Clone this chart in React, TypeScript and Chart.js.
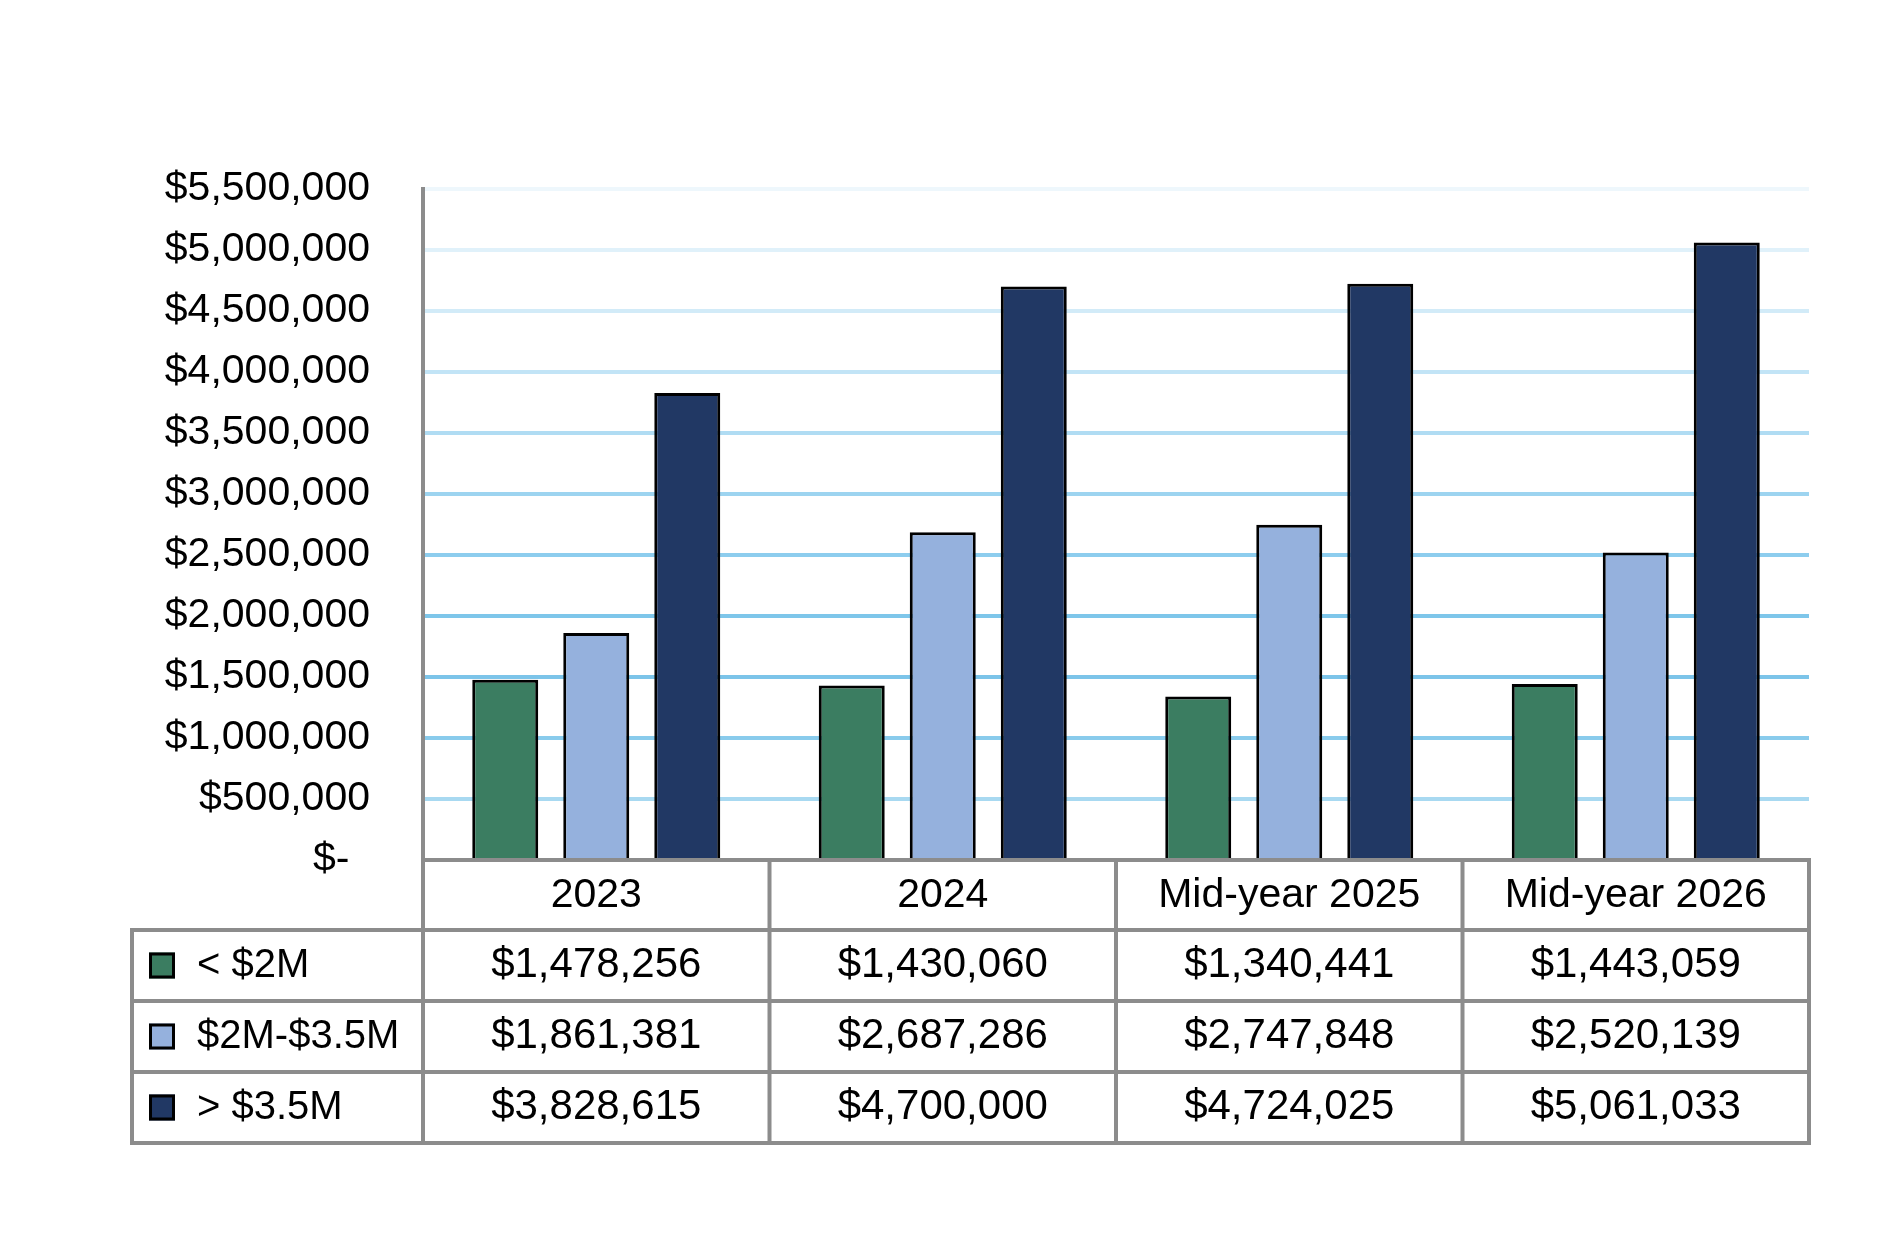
import { useEffect, useRef } from "react"
import { Chart, registerables } from "chart.js"

Chart.register(...registerables)

// Chart data
const categories = ["2023", "2024", "Mid-year 2025", "Mid-year 2026"]
const seriesNames = ["< $2M", "$2M-$3.5M", "> $3.5M"]
const underTwoM = [1478256, 1430060, 1340441, 1443059]
const twoToThreeHalfM = [1861381, 2687286, 2747848, 2520139]
const overThreeHalfM = [3828615, 4700000, 4724025, 5061033]
const yTicks = [0, 500000, 1000000, 1500000, 2000000, 2500000, 3000000, 3500000, 4000000, 4500000, 5000000, 5500000]

const seriesColors = ["#3B7D61", "#95B1DD", "#213864"]
// gridline shades, bottom (0) to top (5.5M)
const gridColors = [
  "#7cc4e9", "#a8d9f1", "#89cbec", "#7cc4e9", "#7ec6ea", "#8dcdee",
  "#9dd4f0", "#b0dcf3", "#c2e4f6", "#d2ebf8", "#e0f1fa", "#eef7fc",
]

const FONT = '"Liberation Sans", Arial, sans-serif'
const money = (v: number) => "$" + v.toLocaleString("en-US")

const dataTable = {
  id: "dataTable",
  afterDraw(chart: Chart) {
    const { ctx, chartArea } = chart
    const xScale = chart.scales.x
    const left = chartArea.left
    const right = chartArea.right
    const step = (right - left) / categories.length
    const tableLeft = 132
    const headerH = 70
    const rowH = 71
    const top = chartArea.bottom
    const rowTops = [top + headerH, top + headerH + rowH, top + headerH + rowH * 2]
    const bottom = top + headerH + rowH * 3

    ctx.save()
    ctx.strokeStyle = "#8c8c8c"
    ctx.lineWidth = 4
    ctx.lineCap = "square"
    ctx.beginPath()
    // header top
    ctx.moveTo(left, top)
    ctx.lineTo(right, top)
    // row lines
    ctx.moveTo(tableLeft, rowTops[0])
    ctx.lineTo(right, rowTops[0])
    ctx.moveTo(tableLeft, rowTops[1])
    ctx.lineTo(right, rowTops[1])
    ctx.moveTo(tableLeft, rowTops[2])
    ctx.lineTo(right, rowTops[2])
    ctx.moveTo(tableLeft, bottom)
    ctx.lineTo(right, bottom)
    // verticals
    ctx.moveTo(tableLeft, rowTops[0])
    ctx.lineTo(tableLeft, bottom)
    for (let i = 0; i <= categories.length; i++) {
      const x = left + step * i
      ctx.moveTo(x, top)
      ctx.lineTo(x, bottom)
    }
    ctx.stroke()

    ctx.fillStyle = "#000"
    ctx.font = `41px ${FONT}`
    ctx.textBaseline = "alphabetic"
    ctx.textAlign = "center"
    categories.forEach((c, i) => {
      ctx.fillText(c, xScale.getPixelForValue(i), top + headerH / 2 + 12)
    })

    chart.data.datasets.forEach((ds, r) => {
      const mid = rowTops[r] + rowH / 2
      const base = mid + 11.5
      // legend key
      ctx.fillStyle = seriesColors[r]
      ctx.fillRect(149, mid - 13, 26, 26)
      ctx.lineWidth = 3
      ctx.strokeStyle = "#000"
      ctx.strokeRect(150.5, mid - 11.5, 23, 23)
      ctx.fillStyle = "#000"
      ctx.font = `40px ${FONT}`
      ctx.textAlign = "left"
      ctx.fillText(String(ds.label), 197, base)
      ctx.font = `42px ${FONT}`
      ctx.textAlign = "center"
      ;(ds.data as number[]).forEach((v, i) => {
        ctx.fillText(money(v), xScale.getPixelForValue(i), base)
      })
    })
    ctx.restore()
  },
}

function RevenueChart() {
  const chartRef = useRef<HTMLCanvasElement>(null)
  const chartInstance = useRef<Chart | null>(null)

  useEffect(() => {
    if (!chartRef.current) return
    if (chartInstance.current) {
      chartInstance.current.destroy()
    }
    const ctx = chartRef.current.getContext("2d")
    if (!ctx) return

    const values = [underTwoM, twoToThreeHalfM, overThreeHalfM]

    chartInstance.current = new Chart(ctx, {
      type: "bar",
      data: {
        labels: categories,
        datasets: seriesNames.map((name, i) => ({
          label: name,
          data: values[i],
          backgroundColor: seriesColors[i],
          borderColor: "#000",
          borderWidth: 3,
          categoryPercentage: 0.788,
          barPercentage: 0.725,
        })),
      },
      options: {
        responsive: true,
        maintainAspectRatio: false,
        animation: false,
        layout: {
          padding: { left: 0, top: 189, right: 79, bottom: 378 },
        },
        plugins: {
          legend: { display: false },
          tooltip: { enabled: false },
        },
        scales: {
          x: {
            display: false,
          },
          y: {
            min: 0,
            max: yTicks[yTicks.length - 1],
            afterFit: (scale) => {
              scale.width = 423
            },
            afterBuildTicks: (scale) => {
              scale.ticks = yTicks.map((v) => ({ value: v }))
            },
            grid: {
              color: (c) => gridColors[c.index] || "#b0dcf3",
              lineWidth: 4,
              drawTicks: false,
            },
            border: {
              display: true,
              color: "#8c8c8c",
              width: 4,
            },
            ticks: {
              color: "#000",
              padding: 53,
              font: { family: FONT, size: 41 },
              callback: (value) => {
                const v = Number(value)
                return v === 0 ? "$-\u2002" : money(v)
              },
            },
          },
        },
      },
      plugins: [dataTable],
    })

    return () => {
      if (chartInstance.current) {
        chartInstance.current.destroy()
        chartInstance.current = null
      }
    }
  }, [])

  return (
    <div style={{ position: "absolute", left: 0, top: 0, width: 1888, height: 1238, background: "#fff" }}>
      <canvas ref={chartRef} />
    </div>
  )
}

export default function App() {
  return <RevenueChart />
}
